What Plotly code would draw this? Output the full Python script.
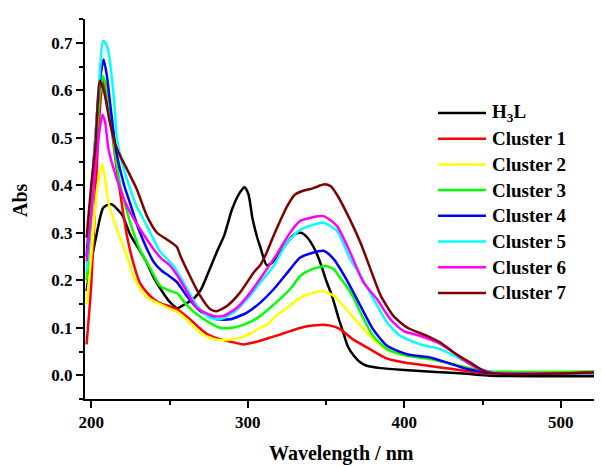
import plotly.graph_objects as go

# ---------------- data ----------------
wl_h3l = [197, 200, 203, 205.5, 207.5, 210, 213, 216, 220, 225, 230, 235, 240, 245, 250, 255, 260, 265,
          270, 275, 280, 285, 290, 295, 298, 300.5, 303, 306, 308, 312, 315, 320, 325, 330, 334, 338, 342,
          346, 350, 354, 358, 361, 364, 368, 372, 376, 385, 400, 420, 440, 455, 525]
abs_h3l = [0.177, 0.24, 0.29, 0.33, 0.352, 0.358, 0.36, 0.352, 0.336, 0.295, 0.268, 0.24, 0.205, 0.178,
           0.155, 0.141, 0.15, 0.16, 0.18, 0.218, 0.258, 0.295, 0.35, 0.385, 0.396, 0.38, 0.33, 0.29, 0.27,
           0.232, 0.236, 0.255, 0.279, 0.297, 0.3, 0.29, 0.27, 0.24, 0.2, 0.165, 0.12, 0.09, 0.06, 0.04,
           0.027, 0.02, 0.015, 0.011, 0.007, 0.003, -0.001, -0.002]

wl_c1 = [197, 200, 203, 205.5, 207.5, 210, 213, 216, 220, 223, 227, 231, 235.6, 240, 244, 250, 255, 263,
         270, 275, 282, 290, 297, 305, 312, 320, 327, 334, 340, 346, 352, 359, 367, 378, 389, 400, 415, 431,
         448, 460, 525]
abs_c1 = [0.065, 0.19, 0.40, 0.56, 0.62, 0.59, 0.52, 0.44, 0.35, 0.29, 0.235, 0.195, 0.174, 0.16, 0.152,
          0.145, 0.139, 0.118, 0.097, 0.085, 0.076, 0.07, 0.065, 0.07, 0.077, 0.085, 0.093, 0.1, 0.104,
          0.106, 0.105, 0.097, 0.076, 0.055, 0.035, 0.027, 0.02, 0.013, 0.005, 0.004, 0.004]

wl_c2 = [197, 200, 203, 205, 207, 209, 211, 216.4, 222.8, 228, 235.6, 244, 250, 255, 263, 270, 280, 290,
         300, 308, 312, 318, 325, 333, 340, 348, 355, 363, 374, 385, 393, 410, 427, 440, 453, 525]
abs_c2 = [0.15, 0.25, 0.37, 0.42, 0.444, 0.41, 0.363, 0.307, 0.251, 0.2, 0.164, 0.15, 0.14, 0.133, 0.111,
          0.088, 0.075, 0.075, 0.085, 0.1, 0.106, 0.125, 0.142, 0.162, 0.172, 0.177, 0.167, 0.139, 0.097,
          0.062, 0.048, 0.037, 0.027, 0.016, 0.008, 0.008]

wl_c3 = [197, 200, 203, 205.5, 207.5, 210, 213, 216, 218.5, 225, 231, 237.7, 244, 250, 255, 261, 265, 272,
         282, 290, 295, 302, 308, 318, 327, 333.5, 340, 350, 355, 359, 363, 368, 372, 380, 389, 402, 417,
         431, 444, 455, 525]
abs_c3 = [0.2, 0.33, 0.48, 0.59, 0.63, 0.6, 0.53, 0.45, 0.4, 0.321, 0.265, 0.225, 0.188, 0.178, 0.172,
          0.148, 0.135, 0.118, 0.1, 0.1, 0.104, 0.113, 0.125, 0.153, 0.181, 0.209, 0.222, 0.23, 0.223,
          0.205, 0.188, 0.16, 0.132, 0.083, 0.055, 0.041, 0.034, 0.023, 0.013, 0.008, 0.008]

wl_c4 = [197, 200, 203, 205.5, 207.9, 210, 212, 216, 221, 225, 230, 235, 240, 245, 248, 254.7, 261, 269.6,
         280, 289, 299.5, 308, 316.5, 327, 333.5, 348.4, 355, 363, 372, 380, 389, 402, 417, 427, 440, 455,
         525]
abs_c4 = [0.25, 0.38, 0.52, 0.62, 0.665, 0.63, 0.574, 0.47, 0.40, 0.36, 0.31, 0.27, 0.238, 0.22, 0.213,
          0.196, 0.167, 0.135, 0.118, 0.118, 0.132, 0.153, 0.181, 0.223, 0.248, 0.262, 0.244, 0.202, 0.146,
          0.097, 0.062, 0.044, 0.037, 0.027, 0.013, 0.005, 0.005]

wl_c5 = [197, 200, 203, 205.5, 207.5, 209, 211, 214.3, 216.4, 218.5, 222.8, 229, 235.6, 240, 244, 250,
         252.6, 259, 267.5, 276, 282.4, 291, 299.5, 308, 316.5, 325, 333, 340, 348.4, 357, 365.5, 372,
         380.4, 389, 397.4, 410, 423, 436, 448.6, 460, 525]
abs_c5 = [0.22, 0.36, 0.52, 0.64, 0.704, 0.70, 0.68, 0.588, 0.50, 0.462, 0.413, 0.356, 0.314, 0.285, 0.26,
          0.24, 0.23, 0.195, 0.146, 0.121, 0.118, 0.132, 0.16, 0.195, 0.23, 0.279, 0.305, 0.315, 0.321,
          0.304, 0.244, 0.21, 0.16, 0.111, 0.083, 0.065, 0.055, 0.034, 0.013, 0.005, 0.005]

wl_c6 = [197, 200, 203, 205.5, 207.2, 209, 211, 216.4, 222.8, 231.3, 240, 245, 250, 255, 259, 267.5, 278,
         284.5, 293, 301.6, 310, 318.6, 327, 333.5, 348.4, 357, 365.5, 374, 382.6, 391, 399.6, 410, 421,
         431.5, 442, 455, 525]
abs_c6 = [0.24, 0.34, 0.45, 0.52, 0.549, 0.53, 0.476, 0.413, 0.356, 0.307, 0.265, 0.245, 0.232, 0.21,
          0.188, 0.142, 0.125, 0.125, 0.142, 0.174, 0.213, 0.255, 0.3, 0.325, 0.335, 0.314, 0.258, 0.195,
          0.16, 0.118, 0.093, 0.083, 0.069, 0.048, 0.023, 0.006, 0.006]

wl_c7 = [197, 200, 202.6, 205.5, 208, 212, 216, 220.6, 222.8, 229, 235.6, 242, 248.3, 254.7, 257, 263,
         269.6, 276, 280, 286.7, 295, 303.7, 308, 312, 316, 320, 325, 330, 335, 340, 345, 349, 353, 357,
         363, 372, 380, 385, 393, 402, 414.5, 423, 431.5, 442, 453, 525]
abs_c7 = [0.29, 0.40, 0.48, 0.62, 0.60, 0.53, 0.48, 0.448, 0.434, 0.392, 0.335, 0.3, 0.286, 0.27, 0.251,
          0.209, 0.167, 0.139, 0.135, 0.146, 0.174, 0.216, 0.232, 0.258, 0.29, 0.32, 0.355, 0.38, 0.388,
          0.392, 0.398, 0.402, 0.398, 0.38, 0.343, 0.279, 0.209, 0.167, 0.125, 0.1, 0.083, 0.069, 0.048,
          0.027, 0.006, 0.006]

names = ["H<sub>3</sub>L", "Cluster 1", "Cluster 2", "Cluster 3", "Cluster 4", "Cluster 5", "Cluster 6",
         "Cluster 7"]
colors = ["#000000", "#FF0000", "#FFFF00", "#00FF00", "#0000FF", "#00FFFF", "#FF00FF", "#800000"]
series = [(wl_h3l, abs_h3l), (wl_c1, abs_c1), (wl_c2, abs_c2), (wl_c3, abs_c3), (wl_c4, abs_c4),
          (wl_c5, abs_c5), (wl_c6, abs_c6), (wl_c7, abs_c7)]

x_ticks = [200, 300, 400, 500]
y_ticks = [0.0, 0.1, 0.2, 0.3, 0.4, 0.5, 0.6, 0.7]

FONT = "Liberation Serif"

# page body has an 8px margin, so the figure is sized to end at the window edge
W, H = 594, 458
ML, MR, MT, MB = 77, 2, 11, 67
PW, PH = W - ML - MR, H - MT - MB


def px_to_paper(px, py):
    # px, py measured in window pixels (figure offset by the 8px page margin)
    return (px - 8 - ML) / PW, (H - MB - (py - 8)) / PH


fig = go.Figure()
for name, color, (xs, ys) in zip(names, colors, series):
    fig.add_trace(go.Scatter(x=xs, y=ys, mode="lines", name=name, showlegend=False,
                             line=dict(color=color, width=2.5, shape="spline", smoothing=0.6)))

# legend drawn as line samples + labels (matches the reference spacing)
shapes, annotations = [], []
for i, (name, color) in enumerate(zip(names, colors)):
    yy = 113 + 25.7 * i
    x0, y0 = px_to_paper(438, yy)
    x1, _ = px_to_paper(486, yy)
    xt, _ = px_to_paper(490, yy)
    shapes.append(dict(type="line", xref="paper", yref="paper", x0=x0, x1=x1, y0=y0, y1=y0,
                       line=dict(color=color, width=2.5)))
    annotations.append(dict(text=name, xref="paper", yref="paper", x=xt, y=y0, xanchor="left",
                            yanchor="middle", showarrow=False,
                            font=dict(family=FONT, size=19, color="black", weight="bold")))

tx, ty = px_to_paper(341, 453)
annotations.append(dict(text="Wavelength / nm", xref="paper", yref="paper", x=tx, y=ty,
                        xanchor="center", yanchor="middle", showarrow=False,
                        font=dict(family=FONT, size=20, color="black", weight="bold")))
ax_, ay_ = px_to_paper(20, 200)
annotations.append(dict(text="Abs", xref="paper", yref="paper", x=ax_, y=ay_, textangle=-90,
                        xanchor="center", yanchor="middle", showarrow=False,
                        font=dict(family=FONT, size=20, color="black", weight="bold")))

fig.update_layout(
    width=W, height=H,
    margin=dict(l=ML, r=MR, t=MT, b=MB, autoexpand=False),
    paper_bgcolor="white", plot_bgcolor="white",
    font=dict(family=FONT, color="black", size=17, weight="bold"),
    showlegend=False,
    xaxis=dict(range=[196, 525], showline=True, linecolor="black", linewidth=2, mirror=False,
               ticks="outside", ticklen=7, tickwidth=2, tickcolor="black",
               tickvals=x_ticks, ticktext=[str(v) for v in x_ticks],
               showgrid=False, zeroline=False,
               tickfont=dict(family=FONT, size=17, color="black", weight="bold"),
               minor=dict(ticks="outside", ticklen=4, tickwidth=2, tickcolor="black", dtick=50,
                          tick0=200, showgrid=False)),
    yaxis=dict(range=[-0.05, 0.75], showline=True, linecolor="black", linewidth=2, mirror=False,
               ticks="outside", ticklen=7, tickwidth=2, tickcolor="black",
               tickvals=y_ticks, ticktext=[f"{v:.1f}" for v in y_ticks],
               showgrid=False, zeroline=False,
               tickfont=dict(family=FONT, size=17, color="black", weight="bold"),
               minor=dict(ticks="outside", ticklen=4, tickwidth=2, tickcolor="black", dtick=0.05,
                          tick0=0, showgrid=False)),
    shapes=shapes,
    annotations=annotations,
)

fig.write_html("out.html")
